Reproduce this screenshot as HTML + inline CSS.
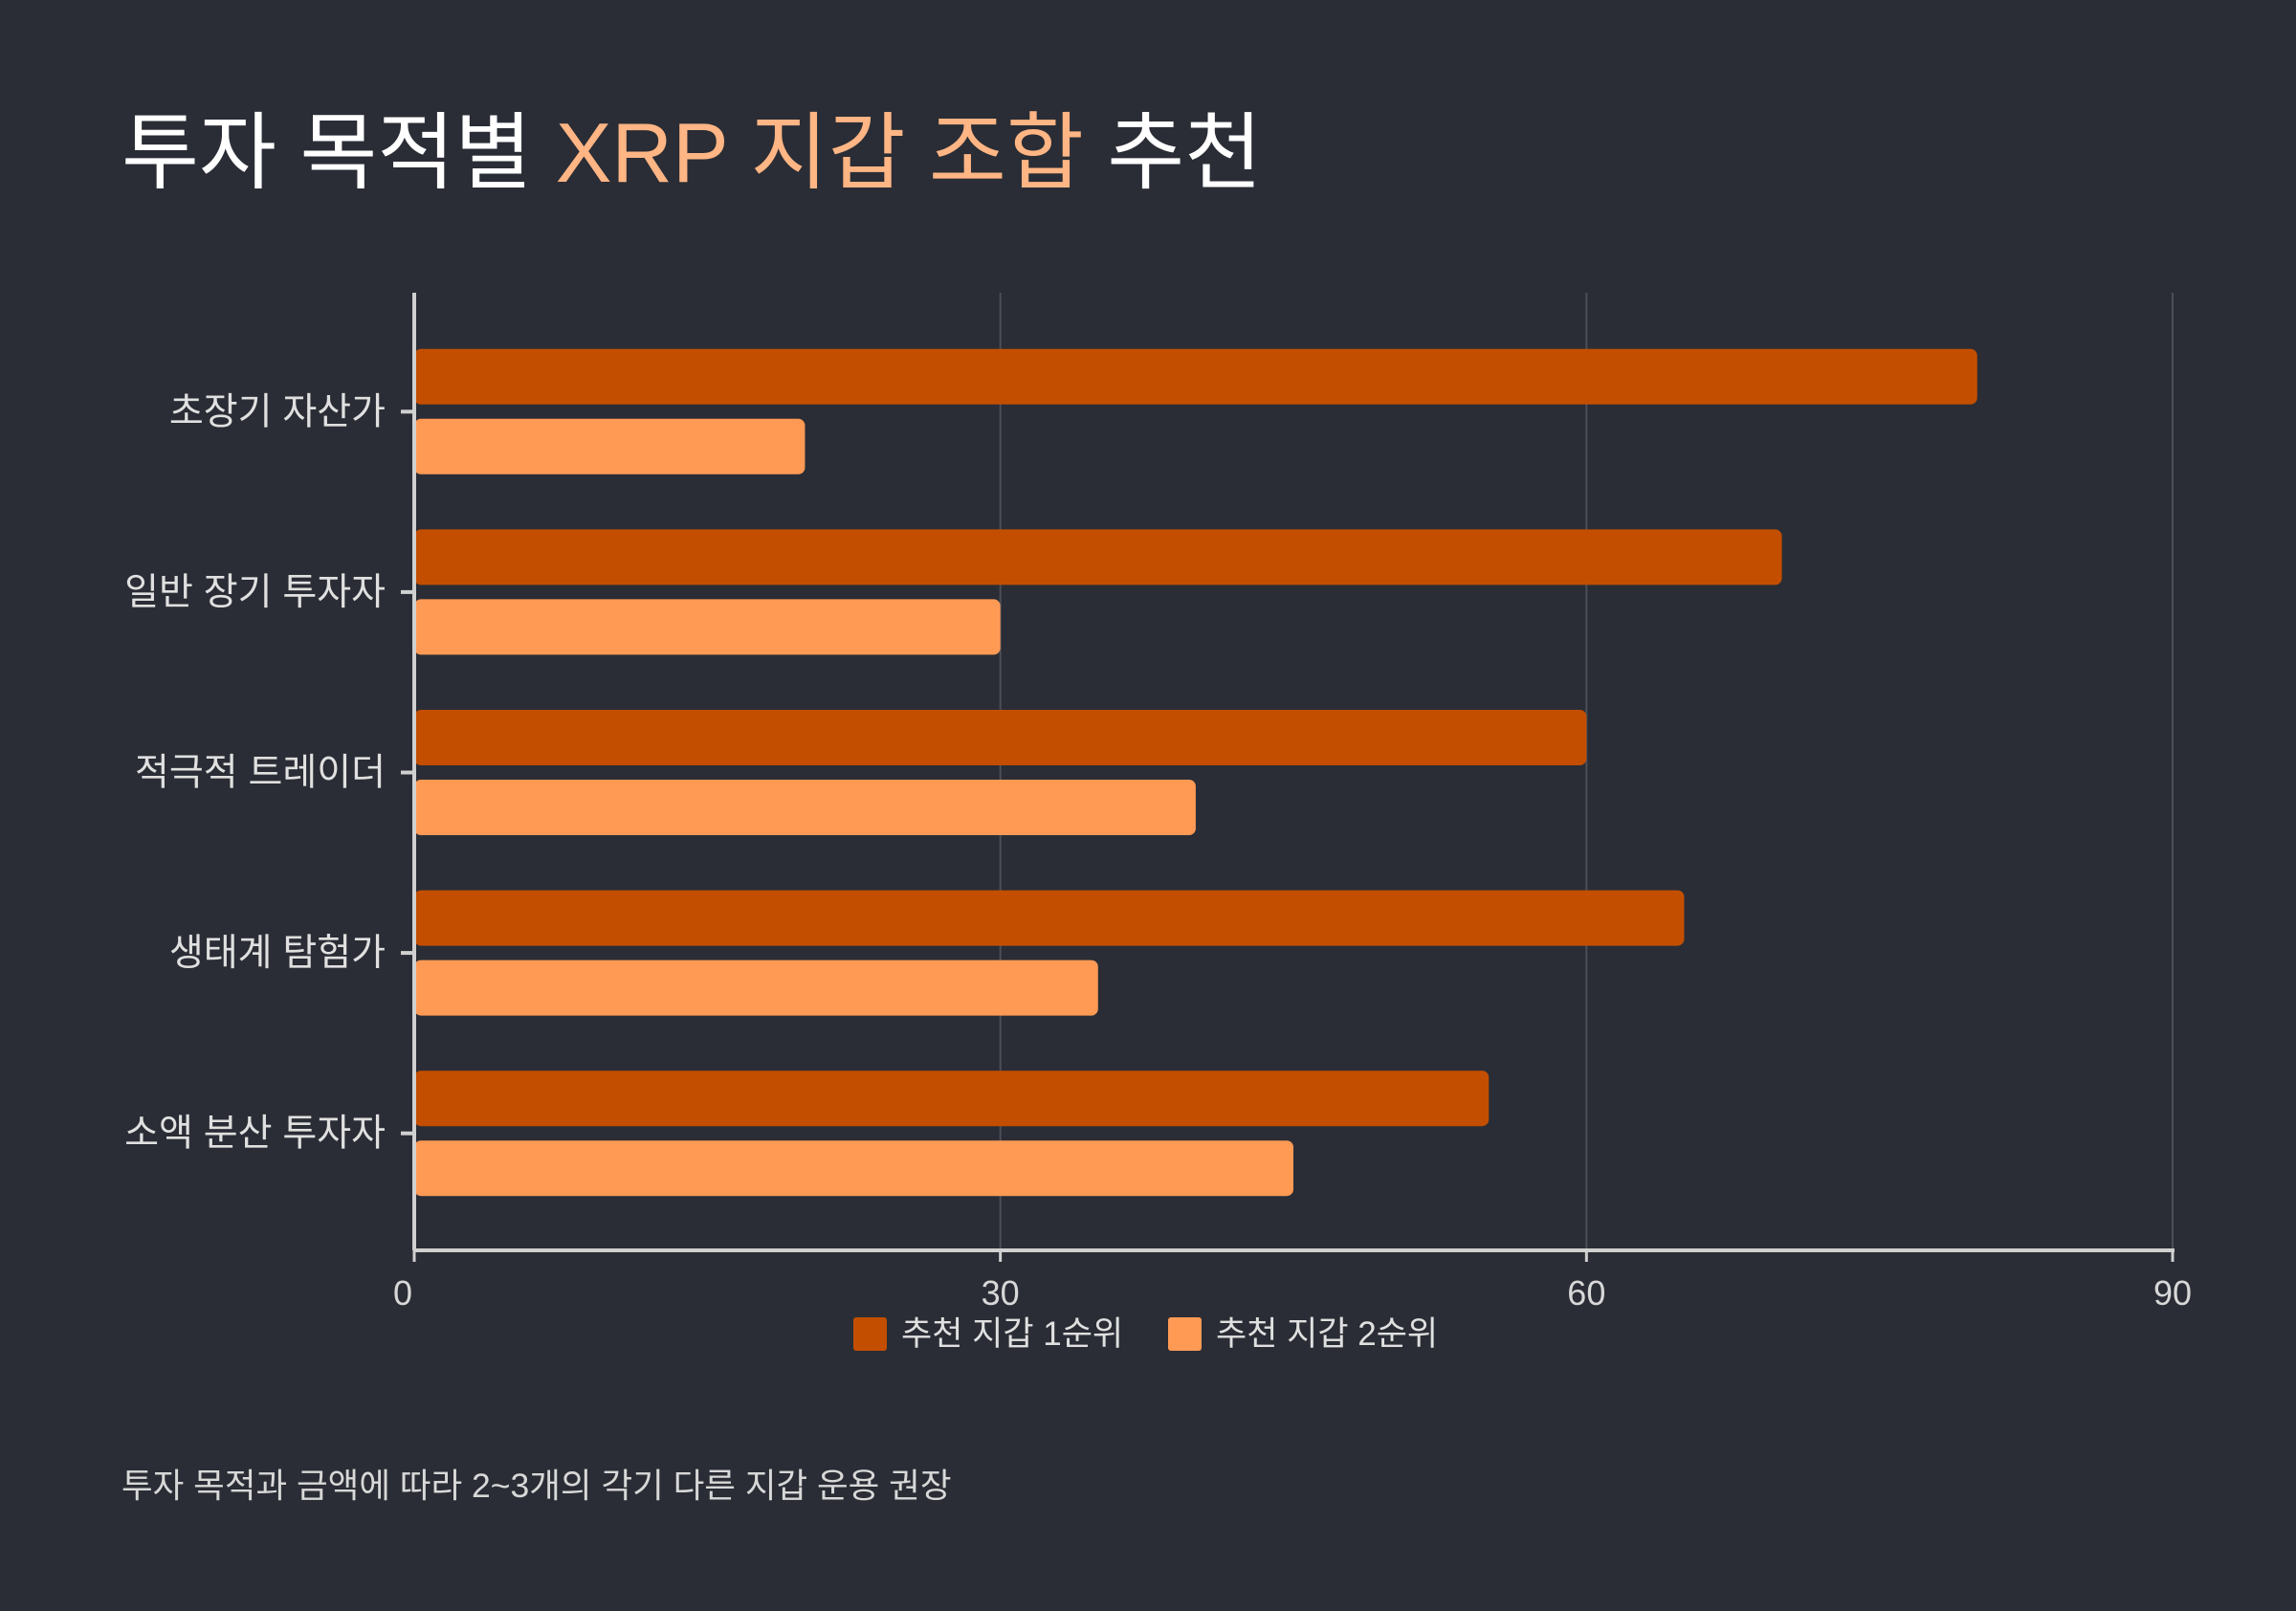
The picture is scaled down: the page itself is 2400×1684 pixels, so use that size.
<!DOCTYPE html>
<html><head><meta charset="utf-8">
<style>
html,body{margin:0;padding:0;background:#2a2d35;}
svg{display:block;font-family:"Liberation Sans","Noto Sans CJK KR",sans-serif;}
</style></head>
<body>
<svg id="chart" width="2400" height="1684" viewBox="0 0 2400 1684">
<rect width="2400" height="1684" fill="#2a2d35"/>
<text x="127" y="190" font-size="88" font-weight="normal" fill="#ffffff">투자 목적별 <tspan fill="#ffb584">XRP 지갑 조합</tspan> 추천</text>
<g id="grid"></g>
<g id="bars"></g>
<g id="axes"></g>
<g id="legend"></g>
<text x="127" y="1565" font-size="35.5" fill="#d8d8d8">투자 목적과 금액에 따라 2~3개의 각기 다른 지갑 운용 권장</text>
</svg>
<script>
const categories = ["초장기 자산가","일반 장기 투자자","적극적 트레이더","생태계 탐험가","소액 분산 투자자"];
const series1 = [80,70,60,65,55];
const series2 = [20,30,40,35,45];
const seriesNames = ["추천 지갑 1순위","추천 지갑 2순위"];
const xTicks = [0,30,60,90];

const NS="http://www.w3.org/2000/svg";
const X0=433, X1=2271, Y0=306, Y1=1307, XMAX=90;
const BAND_START=336, BAND_END=1279;
const xs=v=>X0+(X1-X0)*v/XMAX;
const band=(BAND_END-BAND_START)/categories.length;
const colors=["#c44e00","#ff9a55"];
function mk(tag,attrs,parent,text){const e=document.createElementNS(NS,tag);for(const k in attrs)e.setAttribute(k,attrs[k]);if(text!==undefined)e.textContent=text;parent.appendChild(e);return e;}
const grid=document.getElementById('grid'),bars=document.getElementById('bars'),axes=document.getElementById('axes'),legend=document.getElementById('legend');
xTicks.forEach(t=>{
  if(t>0){const l=mk('line',{x1:xs(t),x2:xs(t),y1:Y0,y2:Y1,stroke:'#4c4f57','stroke-width':2},grid);
  
  }
  const tk=mk('line',{x1:xs(t),x2:xs(t),y1:Y1,y2:Y1+12,stroke:'#d0d0d0','stroke-width':3},axes);
  
  
  const tl=mk('text',{x:xs(t)-(t===0?12:0),y:Y1+57,'font-size':36,fill:'#d8d8d8','text-anchor':'middle'},axes,String(t));
  
  
});
const bh=58,gap=15;
categories.forEach((c,i)=>{
  const cy=BAND_START+band*(i+0.5);
  [series1,series2].forEach((s,j)=>{
    const y=j===0?cy-gap/2-bh:cy+gap/2;
    const r=mk('rect',{x:X0,y:y,width:xs(s[i])-X0,height:bh,rx:7,fill:colors[j]},bars);
    
    
  });
  const tk=mk('line',{x1:X0-14,x2:X0,y1:cy,y2:cy,stroke:'#d0d0d0','stroke-width':4},axes);
  
  
  const lb=mk('text',{x:X0-30,y:cy+13,'font-size':39,fill:'#e0e0e0','text-anchor':'end'},axes,c);
  
  
});
const ya=mk('line',{x1:X0,x2:X0,y1:Y0,y2:Y1,stroke:'#d0d0d0','stroke-width':4},axes);


const xa=mk('line',{x1:X0,x2:X1+2,y1:Y1,y2:Y1,stroke:'#d0d0d0','stroke-width':4},axes);


const lx=[892,1221];
seriesNames.forEach((n,j)=>{
  const sw=mk('rect',{x:lx[j],y:1377,width:35,height:35,rx:3,fill:colors[j]},legend);
  
  
  const t=mk('text',{x:lx[j]+50,y:1406,'font-size':35,fill:'#e0e0e0'},legend,n);
  
  
});
</script>
</body></html>
